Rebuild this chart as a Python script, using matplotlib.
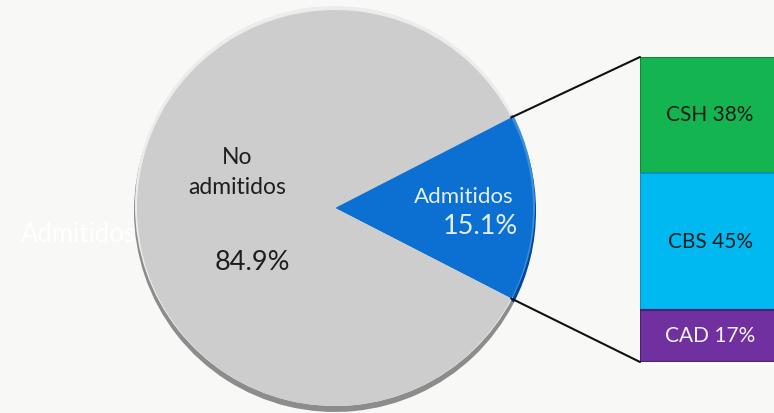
import numpy as np
import matplotlib
matplotlib.use("Agg")
import matplotlib.pyplot as plt
from matplotlib.patches import ConnectionPatch

# Datos
pie_labels = ["Admitidos", "No admitidos"]
pie_values = [15.1, 84.9]
bar_labels = ["CSH", "CBS", "CAD"]   # de arriba hacia abajo
bar_values = [38, 45, 17]

W, H = 774, 413
FONT = ["Lato", "DejaVu Sans"]

def py(y):
    # posicion en pixeles medida desde arriba
    return H - y

fig = plt.figure(figsize=(W / 100, H / 100), dpi=100)
fig.patch.set_facecolor("#f8f8f6")

ax = fig.add_axes([0, 0, 1, 1])
ax.set_xlim(0, W)
ax.set_ylim(0, H)
ax.set_aspect("equal")
ax.axis("off")

cx, cy, r = 335, py(208), 201
start = -pie_values[0] * 3.6 / 2
pie_colors = ["#0b70d2", "#cdcdcd"]
shade_colors = ["#07479a", "#8c8c8c"]
light_colors = ["#3a8fe0", "#ececec"]
explode = [0.03, 0.015]

# sombra inferior y brillo superior para simular el bisel
ax.pie(pie_values, colors=shade_colors, startangle=start, explode=explode,
       center=(cx, cy - 3), radius=r, wedgeprops=dict(linewidth=0))
ax.pie(pie_values, colors=light_colors, startangle=start, explode=explode,
       center=(cx, cy + 2), radius=r - 1, wedgeprops=dict(linewidth=0))
wedges, _ = ax.pie(pie_values, colors=pie_colors, startangle=start, explode=explode,
                   center=(cx, cy), radius=r - 3, wedgeprops=dict(linewidth=0))
ax.set_xlim(0, W)
ax.set_ylim(0, H)

# etiquetas del pastel
ax.text(237, py(158), "No", ha="center", va="center", fontsize=16.5, color="#1e1e1e", family=FONT)
ax.text(237, py(187), "admitidos", ha="center", va="center", fontsize=16.5, color="#1e1e1e", family=FONT)
ax.text(252, py(262), f"{pie_values[1]}%", ha="center", va="center", fontsize=19.5, color="#1e1e1e", family=FONT)
ax.text(464, py(197), pie_labels[0], ha="center", va="center", fontsize=16, color="#e4eefa", family=FONT)
ax.text(480, py(227), f"{pie_values[0]}%", ha="center", va="center", fontsize=19.5, color="#e4eefa", family=FONT)
ax.text(78, py(235), pie_labels[0], ha="center", va="center", fontsize=18.5, color="#ffffff", family=FONT)

# barra apilada
bax = fig.add_axes([640 / W, py(362) / H, 140 / W, 305 / H])
bax.set_xlim(0, 1)
bax.set_ylim(0, 100)
bax.axis("off")
bar_colors = ["#14b550", "#00b9f1", "#7030a0"]
edge_colors = ["#0c8a3a", "#0890bd", "#4e1f73"]
text_colors = ["#1e1e1e", "#1e1e1e", "#f2f2f2"]
top = 100
for lab, val, col, ec, tc in zip(bar_labels, bar_values, bar_colors, edge_colors, text_colors):
    bax.bar(0.5, val, width=1, bottom=top - val, color=col, edgecolor=ec, linewidth=1.5)
    bax.text(0.5, top - val / 2, f"{lab} {val}%", ha="center", va="center",
             fontsize=15, color=tc, family=FONT)
    top -= val

# lineas de conexion
blue = wedges[0]
bx, by = blue.center
for ang, yb in [(blue.theta2, 100), (blue.theta1, 0)]:
    xa = bx + blue.r * np.cos(np.radians(ang))
    ya = by + blue.r * np.sin(np.radians(ang))
    con = ConnectionPatch(xyA=(xa, ya), coordsA=ax.transData, xyB=(0, yb),
                          coordsB=bax.transData, color="#111111", linewidth=1.5)
    fig.add_artist(con)

fig.savefig("out.png", dpi=100, facecolor=fig.get_facecolor())
